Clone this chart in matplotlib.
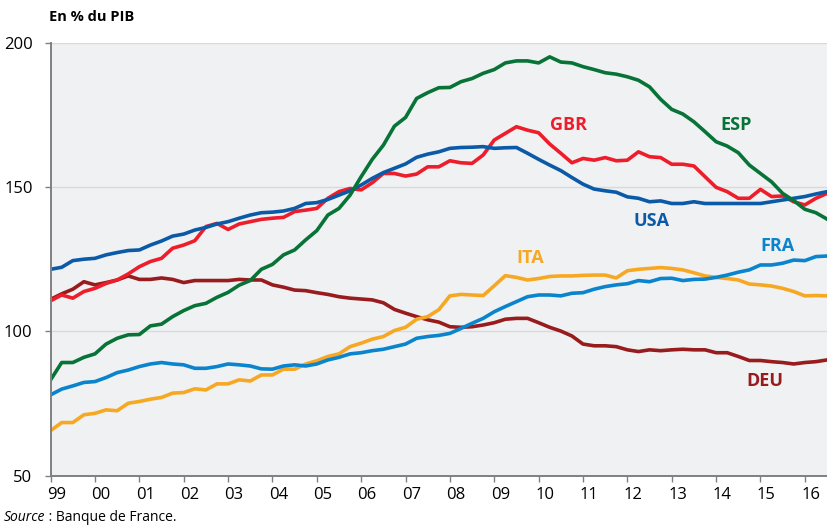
import numpy as np
import matplotlib
matplotlib.use('Agg')
from matplotlib import pyplot as plt
from matplotlib import transforms

plt.rcParams['font.family'] = ['Open Sans', 'DejaVu Sans']

# dette en % du PIB, trimestriel 1999T1 -> 2016T3
esp = [83.2, 89.2, 89.2, 91, 92.2, 95.6, 97.6, 98.8, 98.9, 101.9, 102.5, 105.1, 107.2, 108.9, 109.7, 111.8, 113.5, 116,
       117.6, 121.5, 123.2, 126.5, 128.2, 131.7, 134.9, 140.3, 142.6, 147.2, 153.6, 159.6, 164.5, 171.1, 174.1, 180.7, 182.7, 184.4,
       184.5, 186.5, 187.6, 189.4, 190.7, 193, 193.7, 193.7, 193, 195.1, 193.3, 193, 191.7, 190.7, 189.6, 189.1, 188.2,
       187, 184.7, 180.4, 176.9, 175.3, 172.6, 169.2, 165.7, 164.2, 161.9, 157.6, 154.7, 151.8, 147.8, 145.3, 142.3, 141.1, 138.9]
usa = [121.5, 122.2, 124.5, 125, 125.3, 126.5, 127.3, 128, 128.2, 129.9, 131.3, 133, 133.7, 135.1, 136, 137.2, 138, 139.2,
       140.3, 141.1, 141.3, 141.7, 142.6, 144.3, 144.6, 145.7, 147.2, 148.7, 150.7, 153, 155, 156.5, 158, 160.3, 161.4, 162.2,
       163.4, 163.7, 163.8, 164, 163.4, 163.6, 163.7, 161.7, 159.6, 157.6, 155.7, 153.3, 151, 149.3, 148.7, 148.2, 146.6,
       146.1, 144.9, 145.2, 144.3, 144.3, 144.9, 144.3, 144.3, 144.3, 144.3, 144.3, 144.3, 144.9, 145.5, 146.1, 146.7, 147.6, 148.4]
gbr = [110.6, 112.6, 111.5, 113.8, 114.9, 116.6, 117.8, 119.9, 122.4, 124.2, 125.3, 128.8, 129.9, 131.4, 136.3, 137.4, 135.3, 137.2,
       138, 138.8, 139.2, 139.5, 141.5, 142, 142.6, 146.1, 148.4, 149.5, 149, 151.5, 154.7, 154.7, 153.8, 154.5, 157, 157,
       159.1, 158.4, 158.2, 161.1, 166.3, 168.6, 170.9, 169.7, 168.8, 164.9, 161.7, 158.4, 159.9, 159.3, 160.2, 159.1, 159.3,
       162.2, 160.5, 160.2, 157.9, 157.9, 157.3, 153.6, 149.9, 148.4, 146.1, 146.1, 149.2, 146.7, 146.9, 144.9, 143.8, 146.1, 147.8]
deu = [111.1, 113, 114.6, 117.2, 116.1, 116.9, 117.8, 119.2, 118, 118, 118.5, 118, 116.9, 117.6, 117.6, 117.6, 117.6, 118,
       117.8, 117.8, 116.1, 115.3, 114.3, 114.1, 113.4, 112.8, 112, 111.5, 111.2, 110.9, 109.9, 107.6, 106.3, 105.1, 104, 103.2,
       101.6, 101.4, 101.6, 102.2, 103, 104.2, 104.5, 104.5, 103, 101.4, 100.1, 98.4, 95.6, 95, 95, 94.7, 93.6,
       93, 93.6, 93.3, 93.6, 93.8, 93.6, 93.6, 92.6, 92.6, 91.3, 89.9, 89.9, 89.5, 89.2, 88.7, 89.2, 89.5, 90.1]
fra = [78, 80, 81.1, 82.3, 82.6, 84, 85.7, 86.6, 87.8, 88.7, 89.2, 88.7, 88.4, 87.2, 87.2, 87.8, 88.7, 88.4,
       88, 87, 86.9, 88, 88.4, 88, 88.7, 90.1, 91, 92.2, 92.6, 93.3, 93.8, 94.7, 95.6, 97.6, 98.2, 98.6,
       99.3, 101, 102.8, 104.5, 106.8, 108.6, 110.3, 112, 112.6, 112.6, 112.3, 113.2, 113.4, 114.6, 115.5, 116.1, 116.5,
       117.6, 117.2, 118.3, 118.4, 117.6, 118, 118.1, 118.7, 119.5, 120.5, 121.3, 123, 123, 123.6, 124.7, 124.5, 125.9, 126.1]
ita = [65.6, 68.4, 68.4, 71.1, 71.6, 72.8, 72.5, 75.1, 75.7, 76.5, 77.1, 78.6, 78.8, 80.1, 79.7, 81.8, 81.8, 83.2,
       82.8, 84.9, 84.9, 86.9, 86.9, 88.7, 89.8, 91.3, 92.2, 94.7, 95.9, 97.3, 98.2, 100.3, 101.4, 104.2, 105.1, 107.5,
       112.3, 112.8, 112.6, 112.4, 115.8, 119.3, 118.7, 117.8, 118.3, 119, 119.2, 119.2, 119.4, 119.5, 119.5, 118.5, 121,
       121.5, 121.8, 122.1, 121.8, 121.3, 120.3, 119.2, 118.7, 118.3, 117.8, 116.4, 116.1, 115.7, 114.9, 113.8, 112.3, 112.4, 112.3]

series = ['ESP', 'GBR', 'USA', 'FRA', 'ITA', 'DEU']
values = {'ESP': esp, 'GBR': gbr, 'USA': usa, 'FRA': fra, 'ITA': ita, 'DEU': deu}
colors = {'ESP': '#087337', 'GBR': '#ee1d2b', 'USA': '#0a5aa8', 'FRA': '#0a84cc',
          'ITA': '#f7a823', 'DEU': '#981b1e'}
# position des etiquettes (annee, valeur)
label_pos = {'GBR': (2010.67, 171.4), 'ESP': (2014.45, 171.4), 'USA': (2012.54, 138.2),
             'FRA': (2015.38, 129.5), 'ITA': (2009.81, 125.4), 'DEU': (2015.1, 82.8)}
years = list(range(1999, 2017))
year_labels = ['%02d' % (y % 100) for y in years]

quarters = 1999 + np.arange(len(esp)) / 4

fig = plt.figure(figsize=(8.27, 5.30), dpi=100)
ax = fig.add_axes([0.0612, 0.1025, 0.9388, 0.8169])
ax.set_facecolor('#f0f1f3')

for name in ['DEU', 'ITA', 'FRA', 'GBR', 'USA', 'ESP']:
    ax.plot(quarters, values[name], color=colors[name], lw=2.6, solid_joinstyle='round')

for name in series:
    x, y = label_pos[name]
    ax.text(x, y, name, color=colors[name], fontsize=13, fontweight='bold',
            ha='center', va='center')

ax.set_xlim(1999, 2016.5)
ax.set_ylim(50, 200)
ax.set_yticks([50, 100, 150, 200])
ax.set_xticks(years)
ax.set_xticklabels(year_labels)
ax.grid(axis='y', color='#d9d9d9', lw=1)
ax.set_axisbelow(True)

for s in ['top', 'right']:
    ax.spines[s].set_visible(False)
for s in ['left', 'bottom']:
    ax.spines[s].set_color('#808080')
    ax.spines[s].set_linewidth(1.4)

ax.tick_params(axis='both', colors='#808080', length=4, width=1, labelcolor='black',
               labelsize=12)
ax.tick_params(axis='x', pad=4)
ax.tick_params(axis='y', pad=9)

offset = transforms.ScaledTranslation(0.06, 0, fig.dpi_scale_trans)
for lab in ax.get_xticklabels():
    lab.set_transform(lab.get_transform() + offset)

fig.text(0.059, 0.968, 'En % du PIB', fontsize=10.5, fontweight='bold', ha='left', va='center')
src = fig.text(0.004, 0.023, 'Source', fontsize=10, style='italic', ha='left', va='center')
plt.annotate(' : Banque de France.', xy=(1, 0.5), xycoords=src, fontsize=10,
             ha='left', va='center')

fig.savefig('out.png', dpi=100)
